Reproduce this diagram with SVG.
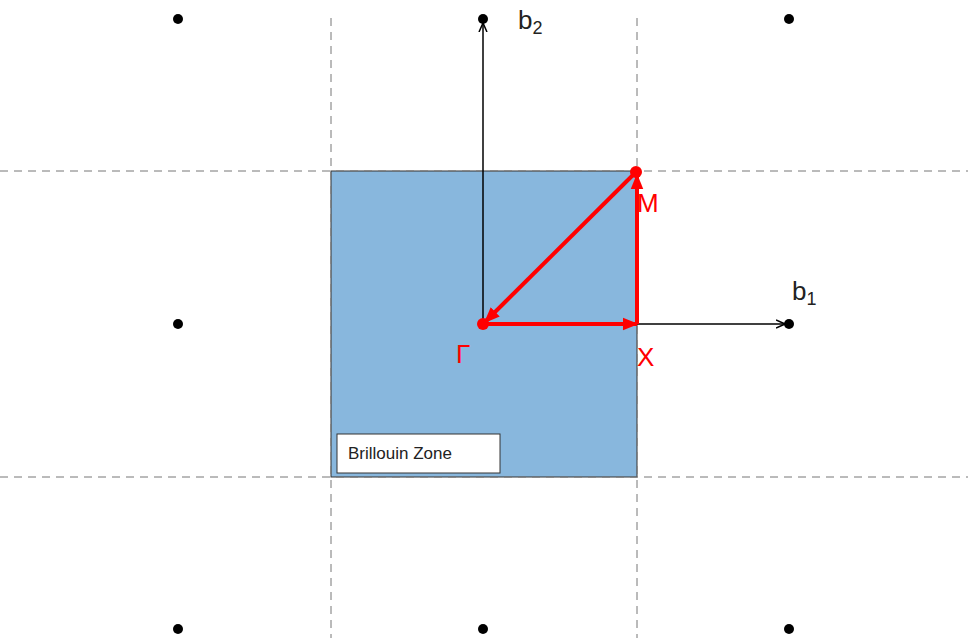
<svg xmlns="http://www.w3.org/2000/svg" width="968" height="638" viewBox="0 0 968 638">
<defs>
<style>
.dash{stroke:#777;stroke-width:1;stroke-dasharray:8 6;fill:none}
.dot{fill:#000}
.ax{stroke:#000;stroke-width:1.5;fill:none}
.red{stroke:#f00;stroke-width:4;fill:none}
.lbl{font-family:"Liberation Sans",Arial,sans-serif;font-size:26px}
</style>
<marker id="open" viewBox="0 0 10 10" refX="9" refY="5" markerWidth="10" markerHeight="10" markerUnits="userSpaceOnUse" orient="auto"><path d="M0,1 L9,5 L0,9" fill="none" stroke="#000" stroke-width="1.5"/></marker>
<marker id="redhead" viewBox="0 0 10 10" refX="9" refY="5" markerWidth="4" markerHeight="4" orient="auto"><path d="M0,1 L10,5 L0,9 Z" fill="#f00"/></marker>
</defs>
<rect x="331" y="171" width="306" height="306" fill="#88b7dd" stroke="#333" stroke-width="1"/>
<g id="grid">
<line class="dash" x1="331" y1="18" x2="331" y2="638"/>
<line class="dash" x1="637" y1="18" x2="637" y2="638"/>
<line class="dash" x1="0" y1="171" x2="968" y2="171"/>
<line class="dash" x1="0" y1="477" x2="968" y2="477"/>
</g>
<g id="points">
<circle class="dot" cx="178" cy="19" r="5"/><circle class="dot" cx="483" cy="19" r="5"/><circle class="dot" cx="789" cy="19" r="5"/>
<circle class="dot" cx="178" cy="324" r="5"/><circle class="dot" cx="789" cy="324" r="5"/>
<circle class="dot" cx="178" cy="629" r="5"/><circle class="dot" cx="483" cy="629" r="5"/><circle class="dot" cx="789" cy="629" r="5"/>
</g>
<g id="connectors">
<line class="ax" x1="483" y1="324" x2="483" y2="23" marker-end="url(#open)"/>
<line class="ax" x1="637" y1="324" x2="785" y2="324" marker-end="url(#open)"/>
<line class="red" x1="483" y1="324" x2="637" y2="324" marker-end="url(#redhead)"/>
<line class="red" x1="637" y1="324" x2="637" y2="175" marker-end="url(#redhead)"/>
<line class="red" x1="637" y1="171" x2="485" y2="322" marker-end="url(#redhead)"/>
</g>
<g id="gamma"><circle cx="483" cy="324" r="6" fill="#f00"/><text class="lbl" x="456" y="363" fill="#f00">Γ</text></g>
<g id="M"><circle cx="636" cy="172" r="6" fill="#f00"/><text class="lbl" x="637" y="212" fill="#f00">M</text></g>
<g id="X"><text class="lbl" x="637" y="366" fill="#f00">X</text></g>
<g id="b2"><text class="lbl" x="518" y="29" fill="#222">b<tspan font-size="18" dy="5">2</tspan></text></g>
<g id="b1"><text class="lbl" x="792" y="300" fill="#222">b<tspan font-size="18" dy="5">1</tspan></text></g>
<g id="bz"><rect x="337" y="434" width="163" height="39" fill="#fff" stroke="#333" stroke-width="1"/><text x="348" y="459" font-family="Liberation Sans,Arial,sans-serif" font-size="17" fill="#222">Brillouin Zone</text></g>
</svg>
